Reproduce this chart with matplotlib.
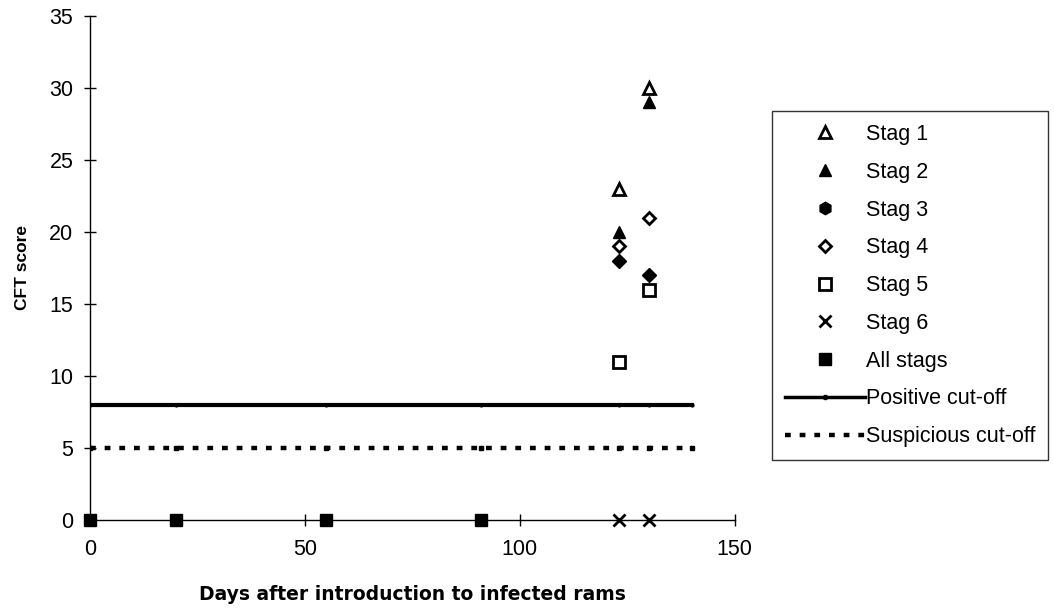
import matplotlib
matplotlib.use("Agg")
import matplotlib.pyplot as plt
from matplotlib.lines import Line2D

plt.rcParams['font.family'] = ['Liberation Sans', 'DejaVu Sans']

# Sampling days and CFT scores
stag_days = [123, 130]
stag1 = [23, 30]
stag2 = [20, 29]
stag3 = [18, 17]
stag4 = [19, 21]
stag5 = [11, 16]
stag6 = [0, 0]
all_days = [0, 20, 55, 91]
all_stags = [0, 0, 0, 0]
cutoff_days = [0, 20, 55, 91, 123, 130, 140]
positive_cutoff = 8
suspicious_cutoff = 5

fig = plt.figure(figsize=(10.54, 6.09), dpi=100)
ax = fig.add_axes([0.0854, 0.146, 0.6117, 0.828])

dotted = (0, (1.3, 2.0))

# Cut-off lines
ax.plot(cutoff_days, [positive_cutoff] * len(cutoff_days), color='black', lw=3,
        marker='o', ms=2, zorder=2)
ax.plot(cutoff_days, [suspicious_cutoff] * len(cutoff_days), color='black', lw=3.2,
        ls=dotted, marker='s', ms=3, zorder=2)

ms = 8
ax.plot(stag_days, stag1, ls='none', marker='^', mfc='white', mec='black', mew=2, ms=ms, zorder=4)
ax.plot(stag_days, stag2, ls='none', marker='^', color='black', ms=ms + 1, zorder=4)
ax.plot(stag_days, stag3, ls='none', marker='D', color='black', ms=ms - 1, zorder=4)
ax.plot(stag_days, stag4, ls='none', marker='D', mfc='white', mec='black', mew=2, ms=ms - 2, zorder=5)
ax.plot(stag_days, stag5, ls='none', marker='s', mfc='white', mec='black', mew=2, ms=ms, zorder=4)
ax.plot(stag_days, stag6, ls='none', marker='x', color='black', mew=2, ms=ms, zorder=4,
        clip_on=False)
ax.plot(all_days, all_stags, ls='none', marker='s', color='black', ms=ms + 1, zorder=4,
        clip_on=False)

ax.set_xlim(0, 150)
ax.set_ylim(0, 35)
ax.set_xticks([0, 50, 100, 150])
ax.set_yticks(range(0, 36, 5))
for s in ['top', 'right']:
    ax.spines[s].set_visible(False)
for s in ['left', 'bottom']:
    ax.spines[s].set_linewidth(1.0)
ax.tick_params(direction='inout', length=9, width=1, labelsize=15.5)
ax.tick_params(axis='x', pad=9)
ax.tick_params(axis='y', pad=7.5)

ax.set_xlabel('Days after introduction to infected rams', fontsize=13.5,
              fontweight='bold', family='DejaVu Sans', labelpad=18)
ax.set_ylabel('CFT score', fontsize=12.5, fontweight='bold', labelpad=14)

handles = [
    Line2D([], [], ls='none', marker='^', mfc='white', mec='black', mew=2, ms=ms),
    Line2D([], [], ls='none', marker='^', color='black', ms=ms + 1),
    Line2D([], [], ls='none', marker='h', color='black', ms=ms + 1),
    Line2D([], [], ls='none', marker='D', mfc='white', mec='black', mew=2, ms=ms - 2),
    Line2D([], [], ls='none', marker='s', mfc='white', mec='black', mew=2, ms=ms),
    Line2D([], [], ls='none', marker='x', color='black', mew=2, ms=ms),
    Line2D([], [], ls='none', marker='s', color='black', ms=ms + 1),
    Line2D([], [], color='black', lw=2.5, marker='o', ms=3),
    Line2D([], [], color='black', lw=3.2, ls=dotted),
]
labels = ['Stag 1', 'Stag 2', 'Stag 3', 'Stag 4', 'Stag 5', 'Stag 6', 'All stags',
          'Positive cut-off', 'Suspicious cut-off']
leg = fig.legend(handles, labels, loc='upper left', bbox_to_anchor=(0.7324, 0.8177),
                 frameon=True, fancybox=False, edgecolor='black', fontsize=15.5,
                 handlelength=3.7, handletextpad=0.05, labelspacing=0.78,
                 borderpad=0.6, borderaxespad=0)
leg.get_frame().set_linewidth(1.0)

fig.savefig('out.png', dpi=100)
